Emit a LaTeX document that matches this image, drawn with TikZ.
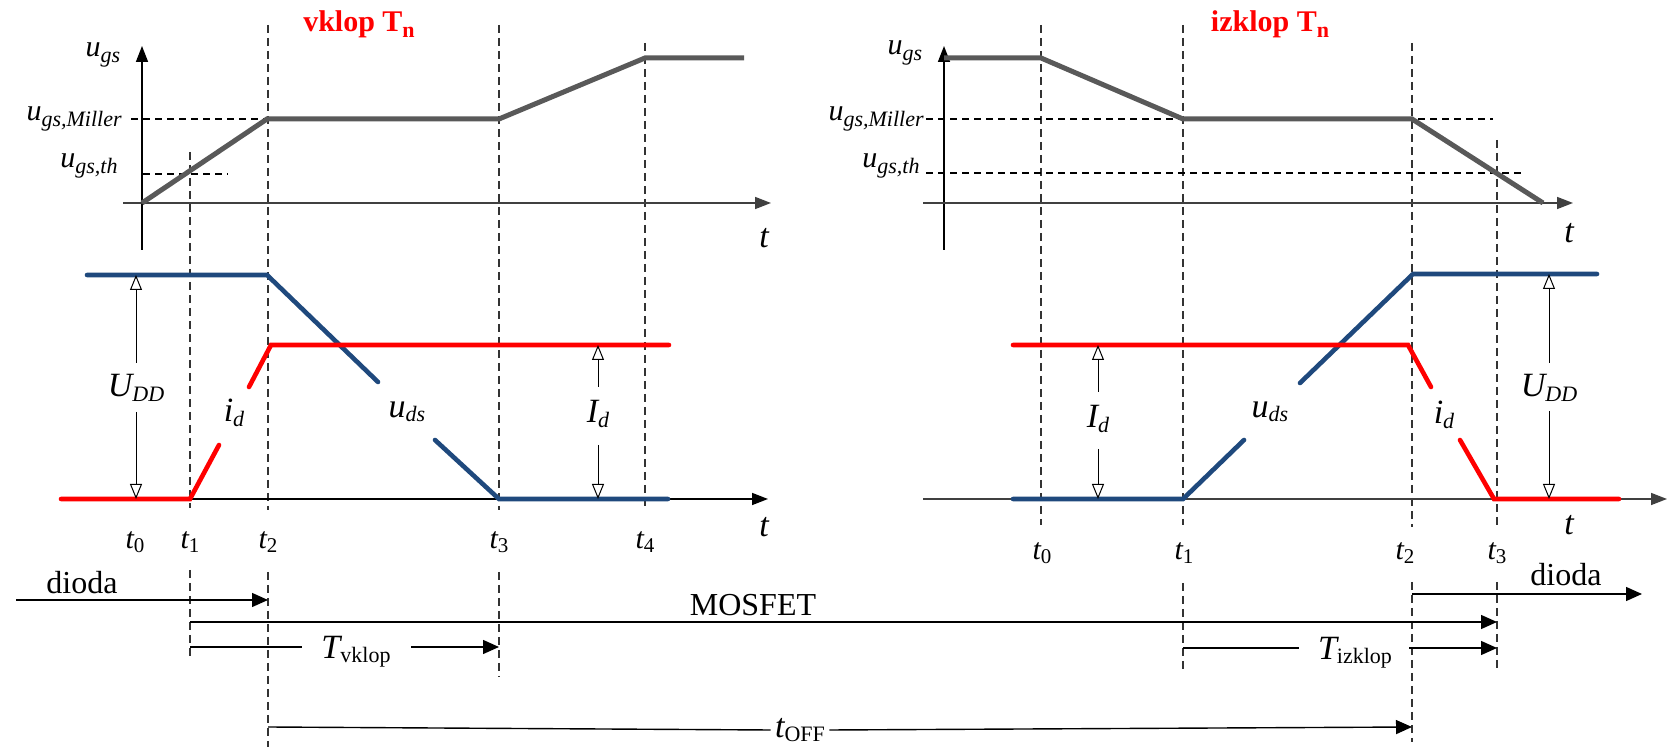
\documentclass[tikz,border=0pt]{standalone}
\usepackage{fontspec}
\setmainfont{Liberation Serif}
\usetikzlibrary{arrows.meta}
\definecolor{wred}{RGB}{255,0,0}
\definecolor{wblue}{RGB}{31,73,125}
\definecolor{wgray}{RGB}{89,89,89}
\newcommand\varlab[5][2.2pt]{{\fontsize{#2}{#2}\selectfont\itshape #3\raisebox{-#1}{\fontsize{#4}{#4}\selectfont #5}}}
\newcommand\ugslab[1]{\varlab[3pt]{15}{u}{11}{gs#1}}
\newcommand\tsub[1]{\varlab{15}{t}{10.5}{\upshape #1}}
\begin{document}
\begin{tikzpicture}[x=0.5pt,y=-0.5pt,
  axisln/.style={line width=0.8pt,-{Triangle[length=8pt,width=6pt]}},
  wave/.style={line width=2.3pt,line cap=round},
  vdash/.style={line width=0.6pt,dash pattern=on 4pt off 2.5pt,black!80},
  hdash/.style={line width=0.6pt,dash pattern=on 3.5pt off 2.5pt},
  meas/.style={line width=0.5pt,-{Triangle[open,length=7.5pt,width=6pt]}},
  conn/.style={line width=0.7pt,-{Triangle[length=8pt,width=7pt]}},
  txt/.style={inner sep=0pt},
  ttl/.style={inner sep=0pt,text=wred,font=\fontsize{15}{15}\selectfont\bfseries}]
\useasboundingbox (0,0) rectangle (1671,747);

% titles
\node[ttl] (ttl1) at (359,24) {vklop T\raisebox{-0.2em}{\fontsize{11}{11}\selectfont n}};
\node[ttl] (ttl2) at (1270,24) {izklop T\raisebox{-0.2em}{\fontsize{11}{11}\selectfont n}};

% ---------- dashed verticals, left ----------
\draw[vdash] (190,152) -- (190,508) (190,570) -- (190,658);
\draw[vdash] (268,25) -- (268,510) (268,572) -- (268,747);
\draw[vdash] (499,25) -- (499,510) (499,572) -- (499,677);
\draw[vdash] (645,43) -- (645,510);
% ---------- dashed verticals, right ----------
\draw[vdash] (1041,25) -- (1041,525);
\draw[vdash] (1183,25) -- (1183,525) (1183,583) -- (1183,673);
\draw[vdash] (1412,43) -- (1412,527) (1412,582) -- (1412,742);
\draw[vdash] (1497,140) -- (1497,527) (1497,582) -- (1497,670);

% ---------- top left: u_gs ----------
\coordinate (LA0) at (142,250); \coordinate (LA1) at (142,46);
\coordinate (LT0) at (123,203); \coordinate (LT1) at (771,203);
\draw[axisln] (LA0) -- (LA1);
\draw[axisln,black!75] (LT0) -- (LT1);
\draw[hdash] (131,119) -- (267,119);
\draw[hdash] (143,174) -- (228,174);
\draw[wave,wgray,line cap=butt,line width=2.5pt] (142,203) -- (267,119) -- (499,119) -- (645,58) -- (744,58);
\node[txt] (lugs) at (103,55) {\ugslab{}};
\node[txt,anchor=east] (lmil) at (122,119) {\ugslab{,Miller}};
\node[txt,anchor=east] (lth) at (118,166) {\ugslab{,th}};
\node[txt] (lt) at (764,238) {\fontsize{17}{17}\selectfont\itshape t};

% ---------- top right: u_gs ----------
\coordinate (RA0) at (944,250); \coordinate (RA1) at (944,46);
\coordinate (RT0) at (923,203); \coordinate (RT1) at (1573,203);
\draw[axisln] (RA0) -- (RA1);
\draw[axisln,black!75] (RT0) -- (RT1);
\draw[hdash] (926,119) -- (1493,119);
\draw[hdash] (926,173) -- (1524,173);
\draw[wave,wgray,line cap=butt,line width=2.5pt] (944,58) -- (1041,58) -- (1183,119) -- (1412,119) -- (1543,203);
\node[txt] (rugs) at (905,53) {\ugslab{}};
\node[txt,anchor=east] (rmil) at (924,119) {\ugslab{,Miller}};
\node[txt,anchor=east] (rth) at (920,166) {\ugslab{,th}};
\node[txt] (rt) at (1569,233) {\fontsize{17}{17}\selectfont\itshape t};

% ---------- middle left ----------
\draw[axisln] (61,499) -- (768,499);
\draw[wave,wblue] (87,275) -- (267,275) -- (378,382);
\draw[wave,wblue] (435,440) -- (499,499) -- (668,499);
\draw[wave,wred] (61,499) -- (190,499) -- (219,445);
\draw[wave,wred] (249,387) -- (271,345) -- (669,345);
\draw[meas] (136,363) -- (136,275);
\draw[meas] (136,412) -- (136,499);
\draw[meas] (598,387) -- (598,345);
\draw[meas] (598,445) -- (598,499);
\node[txt] (ludd) at (136,388) {\varlab{17}{U}{11}{DD}};
\node[txt] (lid) at (598,414) {\varlab{17}{I}{11}{d}};
\node[txt] (luds) at (407,412) {\varlab{17}{u}{11}{ds}};
\node[txt] (lidd) at (234,413) {\varlab{17}{i}{11}{d}};
\node[txt] (lt0) at (135,542) {\tsub{0}};
\node[txt] (lt1) at (190,542) {\tsub{1}};
\node[txt] (lt2) at (268,542) {\tsub{2}};
\node[txt] (lt3) at (499,542) {\tsub{3}};
\node[txt] (lt4) at (645,542) {\tsub{4}};
\node[txt] (ltm) at (764,527) {\fontsize{17}{17}\selectfont\itshape t};

% ---------- middle right ----------
\draw[axisln,black!75] (923,499) -- (1667,499);
\draw[wave,wblue] (1013,499) -- (1183,499) -- (1244,440);
\draw[wave,wblue] (1300,383) -- (1413,274) -- (1597,274);
\draw[wave,wred] (1013,345) -- (1408,345) -- (1431,387);
\draw[wave,wred] (1460,440) -- (1494,499) -- (1619,499);
\draw[meas] (1098,392) -- (1098,345);
\draw[meas] (1098,449) -- (1098,499);
\draw[meas] (1549,363) -- (1549,274);
\draw[meas] (1549,411) -- (1549,499);
\node[txt] (rid) at (1098,419) {\varlab{17}{I}{11}{d}};
\node[txt] (rudd) at (1549,388) {\varlab{17}{U}{11}{DD}};
\node[txt] (ruds) at (1270,412) {\varlab{17}{u}{11}{ds}};
\node[txt] (ridd) at (1444,415) {\varlab{17}{i}{11}{d}};
\node[txt] (rt0) at (1042,553) {\tsub{0}};
\node[txt] (rt1) at (1184,553) {\tsub{1}};
\node[txt] (rt2) at (1405,553) {\tsub{2}};
\node[txt] (rt3) at (1497,553) {\tsub{3}};
\node[txt] (rtm) at (1569,525) {\fontsize{17}{17}\selectfont\itshape t};

% ---------- bottom intervals ----------
\node[txt] (dio1) at (82,583) {\fontsize{16}{16}\selectfont dioda};
\coordinate (d1a) at (16,600); \coordinate (d1b) at (268,600);
\draw[conn] (d1a) -- (d1b);

\node[txt] (mos) at (753,605) {\fontsize{16}{16}\selectfont MOSFET};
\coordinate (ma) at (190,622); \coordinate (mb) at (1497,622);
\draw[conn] (ma) -- (mb);

\node[txt] (tvk) at (356,652) {\varlab{17}{T}{11}{\upshape vklop}};
\coordinate (va) at (190,647); \coordinate (vb) at (499,647);
\draw[line width=0.7pt] (va) -- (302,647);
\draw[conn] (411,647) -- (vb);

\node[txt] (tiz) at (1355,653) {\varlab{17}{T}{11}{\upshape izklop}};
\coordinate (ia) at (1183,648); \coordinate (ib) at (1497,648);
\draw[line width=0.7pt] (ia) -- (1299,648);
\draw[conn] (1409,648) -- (ib);

\node[txt] (toff) at (800,730) {\varlab{17}{t}{11}{\upshape OFF}};
\coordinate (oa) at (268,727); \coordinate (ob) at (1412,727);
\draw[line width=0.7pt] (oa) -- ([xshift=-2pt]toff.west);
\draw[conn] ([xshift=2pt]toff.east) -- (ob);

\node[txt] (dio2) at (1566,575) {\fontsize{16}{16}\selectfont dioda};
\coordinate (d2a) at (1412,594); \coordinate (d2b) at (1642,594);
\draw[conn] (d2a) -- (d2b);
\end{tikzpicture}
\end{document}
